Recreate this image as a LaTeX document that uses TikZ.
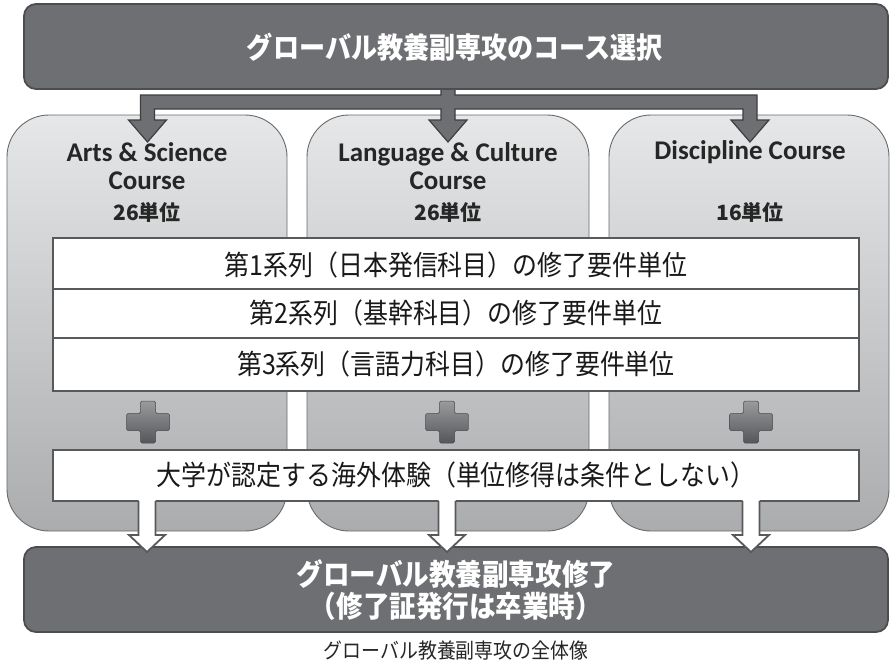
\documentclass[tikz,border=0pt]{standalone}
\usepackage{fontspec}
\newfontfamily\jp[FakeStretch=0.9]{Noto Sans CJK JP}
\newfontfamily\jpw{Noto Sans CJK JP}
\newfontfamily\en{Carlito}
\definecolor{boxfill}{HTML}{6E6F72}
\definecolor{boxedge}{HTML}{4D4D4F}
\definecolor{ctop}{HTML}{E6E7E8}
\definecolor{cbot}{HTML}{ABACAE}
\definecolor{courseedge}{HTML}{6A6A6A}
\definecolor{reqedge}{HTML}{58595B}
\definecolor{arrowfill}{HTML}{6E6F72}
\definecolor{arrowedge}{HTML}{3E3E40}
\definecolor{plustop}{HTML}{9A9B9D}
\definecolor{plusbot}{HTML}{55565A}
\begin{document}
\begin{tikzpicture}[x=1pt,y=-1pt,
  darkbox/.style={draw=boxedge,fill=boxfill,line width=1.8pt,rounded corners=12pt},
  coursebox/.style={draw=courseedge,line width=0.9pt,top color=ctop,bottom color=cbot,rounded corners=42pt},
  reqbox/.style={draw=reqedge,line width=2.4pt,fill=white},
  toparrow/.style={draw=arrowedge,fill=arrowfill,line width=1.2pt,line join=miter},
  botarrow/.style={draw=reqedge,line width=1.8pt,line join=miter},
  plusshape/.style={draw=plusbot!85!black,line width=0.5pt,top color=plustop,bottom color=plusbot,rounded corners=1.5pt},
  titletext/.style={text=white,font=\jp\bfseries\fontsize{29}{34}\selectfont},
  coursetext/.style={text=black!85,align=center,font=\en\bfseries\fontsize{27}{28}\selectfont},
  unittext/.style={text=black!85,font=\jpw\bfseries\fontsize{21}{24}\selectfont},
  reqtext/.style={text=black!90,font=\jp\fontsize{27.7}{30}\selectfont},
  captext/.style={text=black!85,font=\jp\fontsize{21}{24}\selectfont}]
\useasboundingbox (0,0) rectangle (893,665);

% course boxes
\draw[coursebox] (7,115) rectangle (287,531);
\draw[coursebox] (307,115) rectangle (589,531);
\draw[coursebox] (609,115) rectangle (889,531);

% branching arrow from the top box
\def\cL{147.5}\def\cM{448}\def\cR{750}
\def\w{7}\def\hw{19}\def\bt{95}\def\bb{109}\def\hb{120}\def\tp{142}
\draw[toparrow] (\cM-\w,88) -- (\cM-\w,\bt) -- (\cL-\w,\bt) -- (\cL-\w,\hb) -- (\cL-\hw,\hb) -- (\cL,\tp)
  -- (\cL+\hw,\hb) -- (\cL+\w,\hb) -- (\cL+\w,\bb) -- (\cM-\w,\bb) -- (\cM-\w,\hb) -- (\cM-\hw,\hb)
  -- (\cM,\tp) -- (\cM+\hw,\hb) -- (\cM+\w,\hb) -- (\cM+\w,\bb) -- (\cR-\w,\bb) -- (\cR-\w,\hb)
  -- (\cR-\hw,\hb) -- (\cR,\tp) -- (\cR+\hw,\hb) -- (\cR+\w,\hb) -- (\cR+\w,\bt) -- (\cM+\w,\bt)
  -- (\cM+\w,88) -- cycle;

% top box
\draw[darkbox] (24,4) rectangle (888,89);
\node[titletext] (title) at (455,47) {グローバル教養副専攻のコース選択};

% course labels
\node[coursetext] (c1) at (147,166) {Arts \& Science\\Course};
\node[coursetext] (c2) at (448,166) {Language \& Culture\\Course};
\node[coursetext] (c3) at (750,152) {Discipline Course};
\node[unittext] (u1) at (147,212) {26単位};
\node[unittext] (u2) at (448,212) {26単位};
\node[unittext] (u3) at (750,212) {16単位};

% requirement rows
\draw[reqbox] (53,238) rectangle (859,391);
\draw[reqedge,line width=2.4pt] (53,289) -- (859,289);
\draw[reqedge,line width=2.4pt] (53,338) -- (859,338);
\node[reqtext] (r1) at (456,265) {第1系列（日本発信科目）の修了要件単位};
\node[reqtext] (r2) at (456,313) {第2系列（基幹科目）の修了要件単位};
\node[reqtext] (r3) at (456,364) {第3系列（言語力科目）の修了要件単位};

% plus signs
\foreach \px in {148,447,751}{
  \draw[plusshape] (\px-7.5,401) -- (\px+7.5,401) -- (\px+7.5,413.5) -- (\px+21.5,413.5) -- (\px+21.5,430.5)
    -- (\px+7.5,430.5) -- (\px+7.5,443) -- (\px-7.5,443) -- (\px-7.5,430.5) -- (\px-21.5,430.5)
    -- (\px-21.5,413.5) -- (\px-7.5,413.5) -- cycle;
}

% overseas experience box
\draw[reqbox] (53,450) rectangle (859,501);
\node[reqtext] (r4) at (456,475) {大学が認定する海外体験（単位修得は条件としない）};

% bottom box
\draw[darkbox] (24,547) rectangle (888,632);
\node[titletext,align=center,font=\jp\bfseries\fontsize{29.5}{32}\selectfont] (done) at (456,590) {グローバル教養副専攻修了\\（修了証発行は卒業時）};

% down arrows into the bottom box
\foreach \ax in {147,447,751}{
  \fill[white] (\ax-8.5,499.5) -- (\ax-8.5,535) -- (\ax-18,535) -- (\ax,552) -- (\ax+18,535) -- (\ax+8.5,535) -- (\ax+8.5,499.5) -- cycle;
  \draw[botarrow] (\ax-8.5,501) -- (\ax-8.5,535) -- (\ax-18,535) -- (\ax,552) -- (\ax+18,535) -- (\ax+8.5,535) -- (\ax+8.5,501);
}

% caption
\node[captext] (cap) at (456,651) {グローバル教養副専攻の全体像};
\end{tikzpicture}
\end{document}
